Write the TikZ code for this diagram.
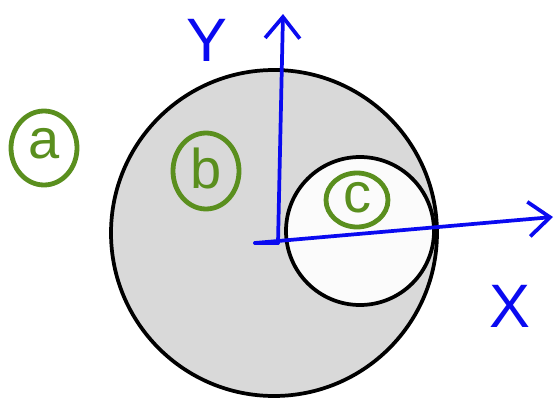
\documentclass[tikz,border=0pt]{standalone}
\usepackage{fontspec}
\setmainfont{Liberation Sans}
\usetikzlibrary{arrows.meta}
\definecolor{hgreen}{HTML}{5A8F1E}
\definecolor{hblue}{HTML}{0A0AF0}
\definecolor{diskgray}{HTML}{D9D9D9}
\begin{document}
\begin{tikzpicture}[x=0.75pt,y=-0.75pt,
  ring/.style={draw=hgreen,line width=3.6pt},
  tagtxt/.style={text=hgreen,font=\fontsize{42}{42}\selectfont},
  axislbl/.style={text=hblue,font=\fontsize{46}{46}\selectfont},
  disk/.style={circle,draw=black,line width=2.8pt,inner sep=0pt},
  axisline/.style={draw=hblue,line width=2.8pt,line cap=round,-{Straight Barb[length=16pt,width=26pt,line width=2.8pt]}}]
\useasboundingbox (0,0) rectangle (558,400);
\node[disk,fill=diskgray,minimum size=326*0.75pt] (big) at (274,233) {};
\node[disk,fill=white!97!gray,minimum size=148*0.75pt] (small) at (360,231) {};
\coordinate (o) at (255,243);
\coordinate (ybot) at (278,243);
\coordinate (ytop) at (283,14);
\coordinate (xend) at (553,217);
\draw[draw=hblue,line width=2.8pt,line cap=round] (o) -- (ybot);
\draw[axisline] (ybot) -- (ytop);
\draw[axisline] (o) -- (xend);
\node[axislbl] (ylbl) at (207,40) {Y};
\node[axislbl] (xlbl) at (510,306) {X};
\coordinate (ca) at (44,148);
\draw[ring] (ca) ellipse [x radius=33, y radius=37];
\node[tagtxt] (ta) at (44,144) {a};
\coordinate (cb) at (206,171);
\draw[ring] (cb) ellipse [x radius=33, y radius=38];
\node[tagtxt] (tb) at (206,168) {b};
\coordinate (cc) at (357,200);
\draw[ring] (cc) ellipse [x radius=31, y radius=27];
\node[tagtxt] (tc) at (357,198) {c};
\end{tikzpicture}
\end{document}
